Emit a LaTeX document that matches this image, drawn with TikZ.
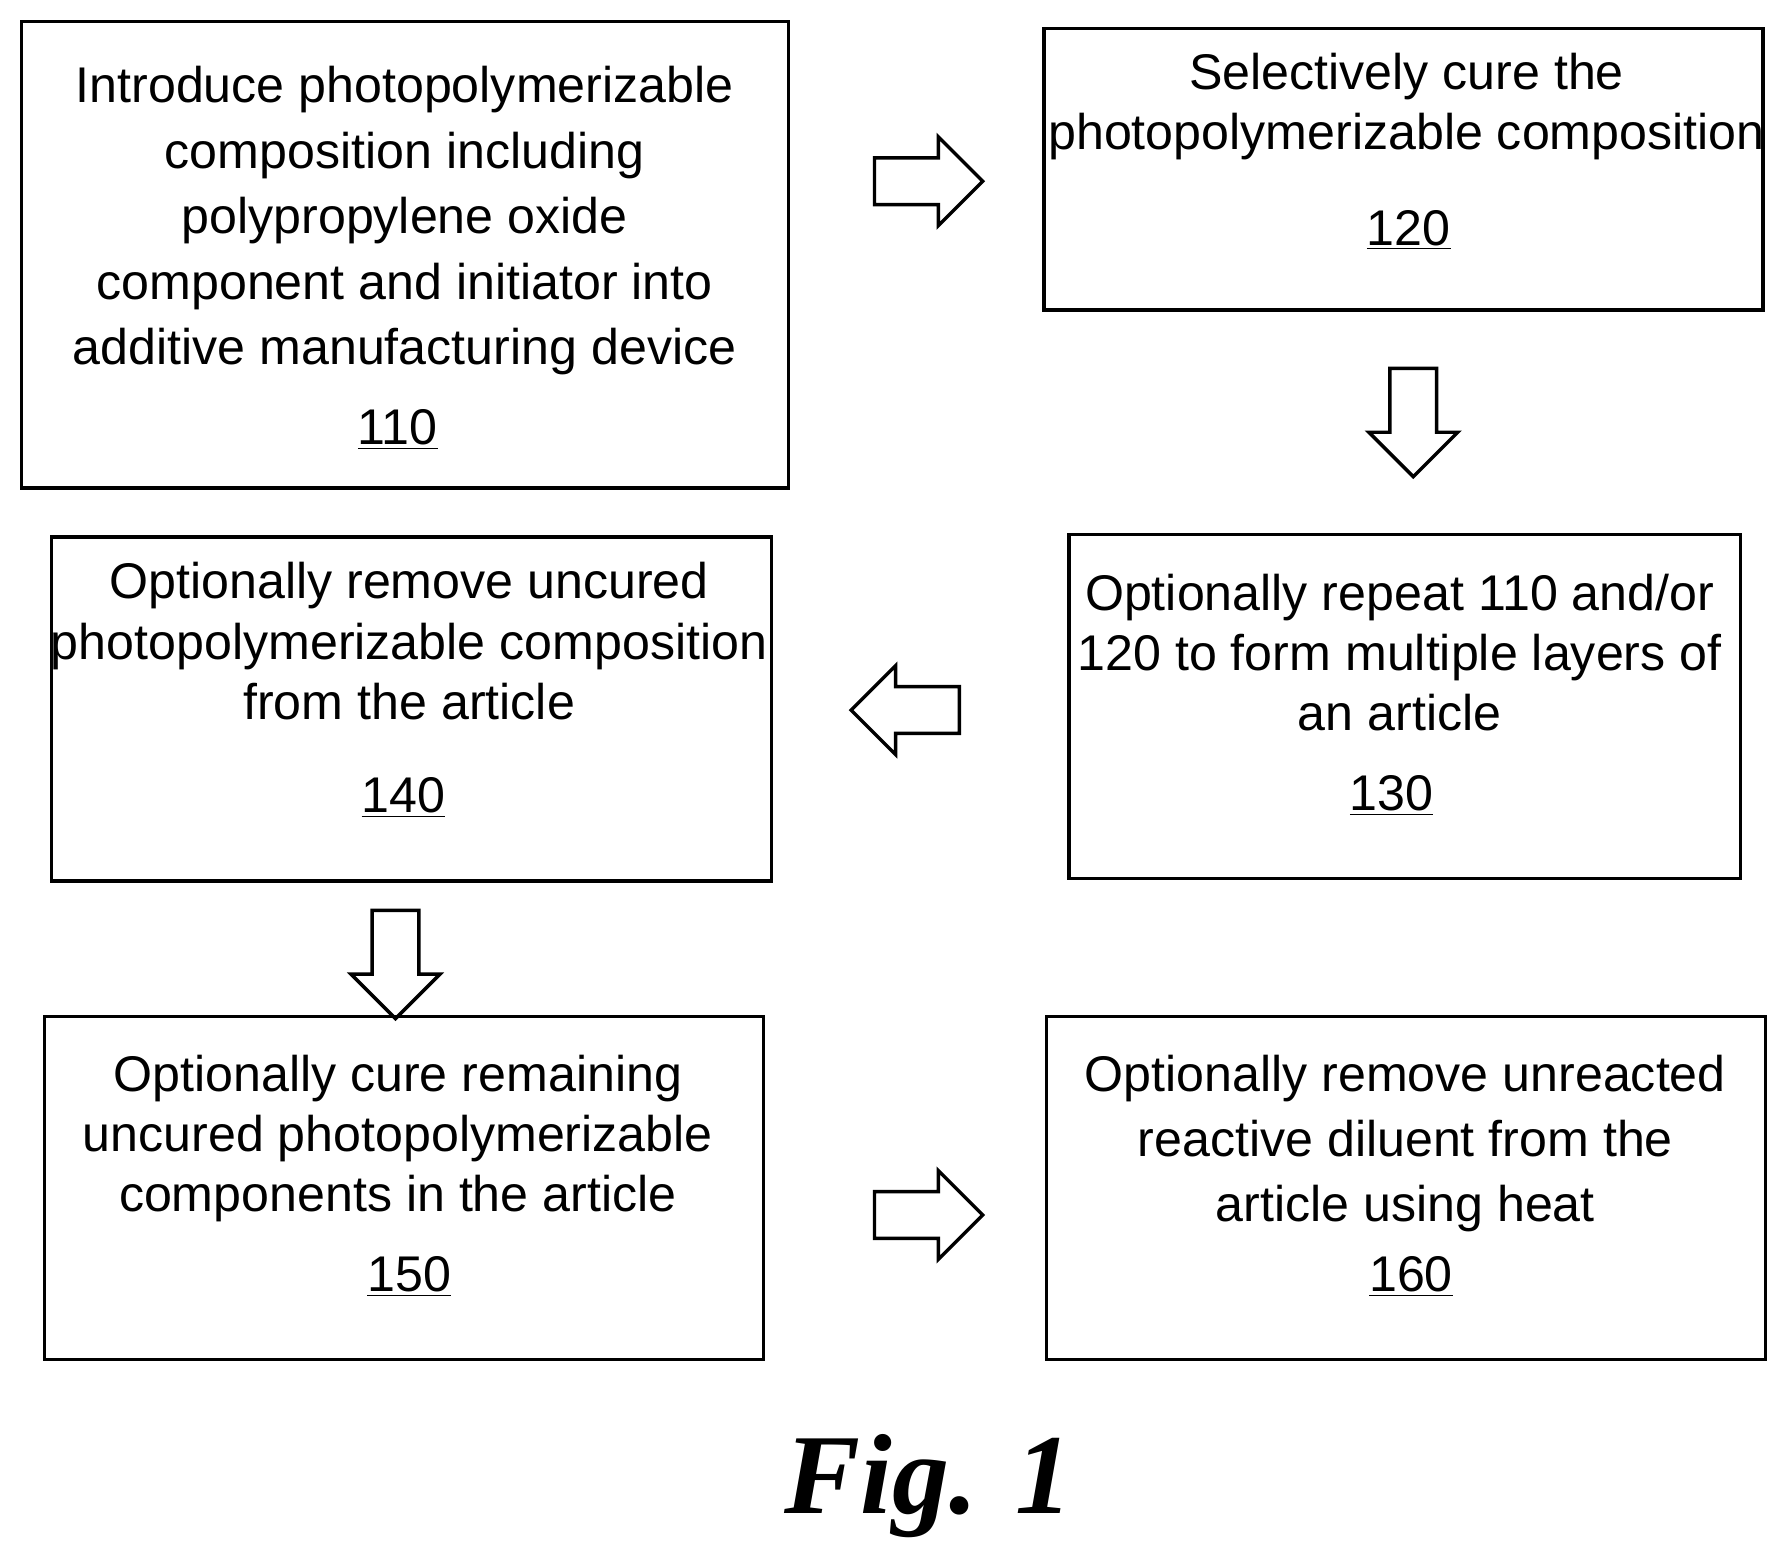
\documentclass[tikz,border=0pt]{standalone}
\usepackage{fontspec}
\setmainfont{Liberation Sans}
\newfontfamily\figfont{Liberation Serif}
\usetikzlibrary{shapes.arrows, positioning}
\tikzset{
  stepbox/.style={rectangle, draw=black, line width=1.5pt},
  txt/.style={align=center, anchor=north, inner sep=0pt, font=\fontsize{22}{26.5}\selectfont},
  num/.style={anchor=base, inner sep=0pt, font=\fontsize{22}{26.5}\selectfont},
  flow/.style={single arrow, draw=black, line width=1.5pt, minimum height=47.5pt,
    minimum width=37.5pt, inner sep=9.5pt, single arrow head extend=9.25pt}
}
\newcommand{\stepnum}[1]{\underline{#1}}
\begin{document}
\begin{tikzpicture}[x=0.5pt, y=-0.5pt]
    \useasboundingbox (0,0) rectangle (1560,1356);
    % boxes
    \node (b110) [stepbox, minimum width=336.5pt, minimum height=204.5pt] at (355.5,223.5) {};
    \node (b120) [stepbox, minimum width=315.5pt, minimum height=123.5pt] at (1231.5,148.5) {};
    \node (b130) [stepbox, minimum width=294.5pt, minimum height=151pt] at (1232.5,620) {};
    \node (b140) [stepbox, minimum width=316pt, minimum height=151pt] at (361,622) {};
    \node (b150) [stepbox, minimum width=315.5pt, minimum height=150.5pt] at (354.5,1042.5) {};
    \node (b160) [stepbox, minimum width=315.5pt, minimum height=150.5pt] at (1233.5,1042.5) {};
    % texts
    \node (t110) [txt, font=\fontsize{22}{28.7}\selectfont] at (355,58) {Introduce photopolymerizable\\composition including\\polypropylene oxide\\component and initiator into\\additive manufacturing device};
    \node (n110) [num] at (349,390) {\stepnum{110}};
    \node (t120) [txt] at (1234,46) {Selectively cure the\\photopolymerizable composition};
    \node (n120) [num] at (1236,215) {\stepnum{120}};
    \node (t130) [txt] at (1228,503) {Optionally repeat 110 and/or\\120 to form multiple layers of\\an article};
    \node (n130) [num] at (1221,711) {\stepnum{130}};
    \node (t140) [txt] at (359,493) {Optionally remove uncured\\photopolymerizable composition\\from the article};
    \node (n140) [num] at (354,713) {\stepnum{140}};
    \node (t150) [txt] at (349,925) {Optionally cure remaining\\uncured photopolymerizable\\components in the article};
    \node (n150) [num] at (359,1133) {\stepnum{150}};
    \node (t160) [txt, font=\fontsize{22}{28.7}\selectfont] at (1233,925) {Optionally remove unreacted\\reactive diluent from the\\article using heat};
    \node (n160) [num] at (1238,1133) {\stepnum{160}};
    % arrows
    \node (a1) [flow] at (804.5,159) {};
    \node (a2) [flow, shape border rotate=270] at (1240,360.5) {};
    \node (a3) [flow, shape border rotate=180] at (804.5,623) {};
    \node (a4) [flow, shape border rotate=270] at (347,836) {};
    \node (a5) [flow] at (804.5,1066) {};
    % caption
    \node (fig) [anchor=base, inner sep=0pt, font=\figfont\bfseries\itshape\fontsize{50}{50}\selectfont] at (815,1328) {Fig. 1};
\end{tikzpicture}
\end{document}
